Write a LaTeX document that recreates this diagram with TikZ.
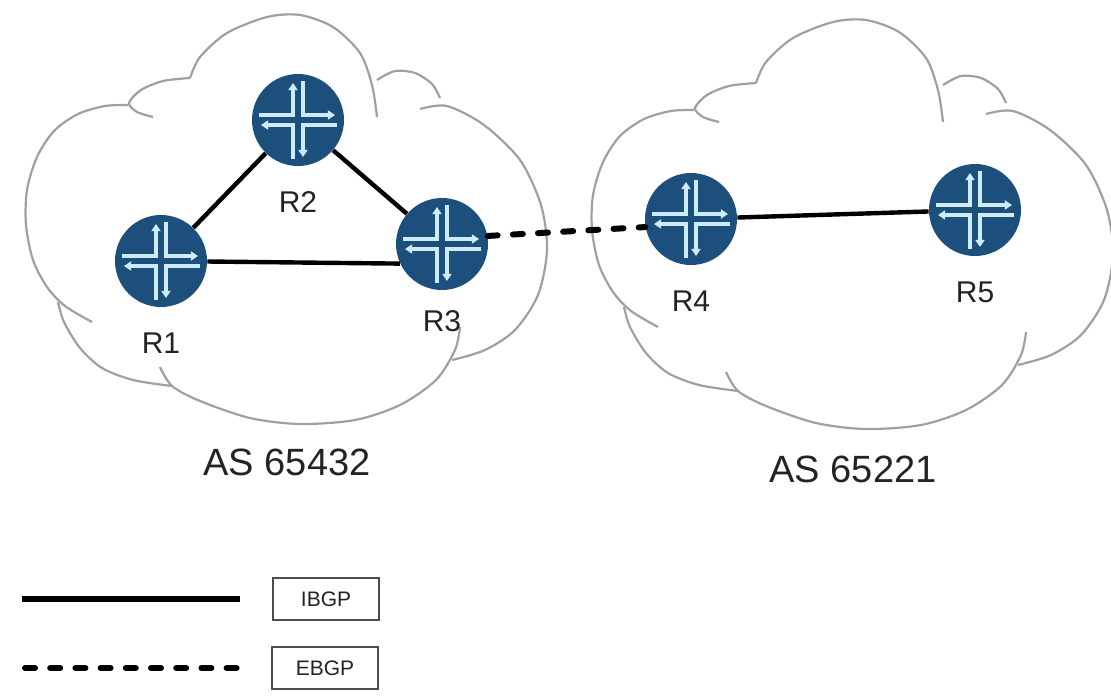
\documentclass[tikz,border=0pt]{standalone}
\usepackage{fontspec}
\setmainfont{Liberation Sans}
\usetikzlibrary{arrows.meta,positioning}
\definecolor{routerblue}{RGB}{29,79,124}
\definecolor{arrowcyan}{RGB}{205,236,246}
\definecolor{cloudgray}{RGB}{160,160,160}
\definecolor{textgray}{RGB}{35,35,35}
\tikzset
{
	router/.style = {circle, fill=routerblue, minimum size=46pt, inner sep=0pt,
		path picture={
			\begin{scope}[shift={(path picture bounding box.center)}, draw=arrowcyan, line width=2pt, -{Triangle[length=3.6pt,width=4.6pt]}]
			\draw (-39,-5) -- (-5,-5) -- (-5,-37);
			\draw (5,-39) -- (5,-5) -- (37,-5);
			\draw (39,5) -- (5,5) -- (5,37);
			\draw (-5,39) -- (-5,5) -- (-37,5);
			\end{scope}
		}},
	rlabel/.style = {font=\fontsize{15}{18}\selectfont, text=textgray, inner sep=0pt},
	aslabel/.style = {font=\fontsize{19}{22}\selectfont, text=textgray, inner sep=0pt},
	keybox/.style = {draw=black!70, line width=0.6pt, font=\fontsize{10.5}{12}\selectfont, text=textgray, minimum width=53pt, minimum height=21pt, inner sep=0pt},
	ibgp/.style = {line width=2.2pt, black},
	ebgp/.style = {line width=3pt, black, line cap=round, dash pattern=on 5pt off 7.6pt},
	cloudline/.style = {draw=cloudgray, line width=1.1pt},
	ascloud/.pic = {
		% one puff at a time, the ends curl inwards
		\draw[cloudline] plot[smooth] coordinates {(190,78) (200,57) (227,33) (267,17) (300,15) (333,27) (360,53) (372,85) (377,117)};
		\draw[cloudline] plot[smooth] coordinates {(377,80) (395,71) (415,73) (432,84) (440,98)};
		\draw[cloudline] plot[smooth] coordinates {(420,109) (447,106) (484,125) (520,160) (541,205) (547,250) (538,295) (515,330) (485,350) (452,360)};
		\draw[cloudline] plot[smooth] coordinates {(460,327) (455,350) (436,380) (400,405) (355,420) (300,424) (250,418) (200,401) (172,386) (160,367)};
		\draw[cloudline] plot[smooth] coordinates {(172,386) (133,380) (102,368) (80,348) (64,322) (58,302)};
		\draw[cloudline] plot[smooth] coordinates {(128,105) (105,106) (78,114) (54,131) (37,157) (27,190) (26,225) (33,260) (47,287) (65,306) (92,322)};
		\draw[cloudline] plot[smooth] coordinates {(190,78) (163,81) (141,90) (129,103) (137,112) (153,117)};
	}
}

\begin{document}
\begin{tikzpicture}[x=0.5pt, y=-0.5pt]
\useasboundingbox (0,0) rectangle (1111,696);

% the two autonomous systems
\pic (cloudA) at (0,0) {ascloud};
\pic (cloudB) at (566,5) {ascloud};

% routers
\node[router] (R1) at (161,261) {};
\node[router] (R2) at (298,120) {};
\node[router] (R3) at (442,244) {};
\node[router] (R4) at (691,219) {};
\node[router] (R5) at (975,210) {};

\node[rlabel, below=12.5pt of R1] (R1lbl) {R1};
\node[rlabel, below=12.5pt of R2] (R2lbl) {R2};
\node[rlabel, below=10pt of R3] (R3lbl) {R3};
\node[rlabel, below=12.5pt of R4] (R4lbl) {R4};
\node[rlabel, below=12.5pt of R5] (R5lbl) {R5};

\node[aslabel] (as65432) at (287,462) {AS 65432};
\node[aslabel] (as65221) at (853,469) {AS 65221};

% sessions
\draw[ibgp] (R1) -- (R2);
\draw[ibgp] (R2) -- (R3);
\draw[ibgp] (R1) -- (R3.205);
\draw[ibgp] (R4) -- (R5);
\draw[ebgp] (R3.10) -- (R4.190);

% legend
\node[keybox] (ibgpKey) at (326,599) {IBGP};
\node[keybox] (ebgpKey) at (325,668) {EBGP};
\coordinate (ibgpA) at (22,599);
\coordinate (ibgpB) at (240,599);
\coordinate (ebgpA) at (25,668);
\coordinate (ebgpB) at (238,668);
\draw[ibgp, line width=3pt] (ibgpA) -- (ibgpB);
\draw[ebgp] (ebgpA) -- (ebgpB);
\end{tikzpicture}
\end{document}
